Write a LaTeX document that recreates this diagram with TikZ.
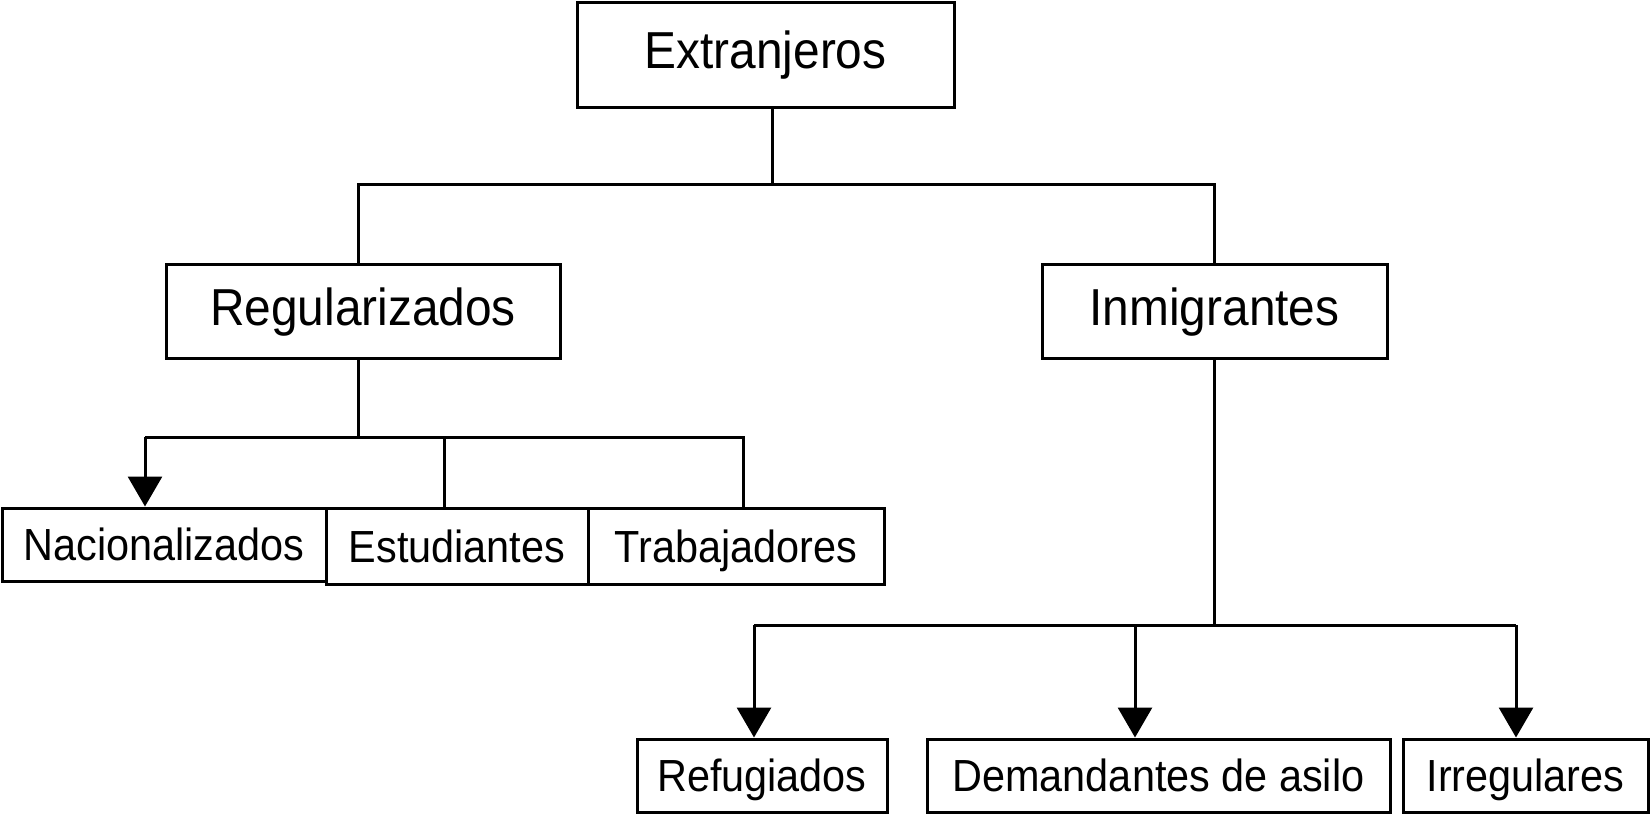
\documentclass[tikz,border=0pt]{standalone}
\usepackage{fontspec}
\setmainfont{Liberation Sans}[FakeStretch=0.92]
\usetikzlibrary{arrows.meta}
\tikzset{
  box/.style={draw, line width=3pt, inner sep=0pt, anchor=center},
  big/.style={box, font=\fontsize{52}{60}\selectfont, text height=39pt, text depth=11pt},
  small/.style={box, font=\fontsize{45}{52}\selectfont, text height=42pt, text depth=9.4pt},
  conn/.style={line width=3pt},
  arr/.style={conn, -{Triangle[width=34pt,length=30pt]}}
}
\begin{document}
\begin{tikzpicture}[x=1pt,y=-1pt]
\useasboundingbox (0,0) rectangle (1651,815);
% nodes
\node[big, minimum width=377pt, minimum height=105pt] (ext) at (765.5,54.5) {Extranjeros};
\node[big, minimum width=394pt, minimum height=94pt] (reg) at (363,311) {Regularizados};
\node[big, minimum width=345pt, minimum height=94pt] (inm) at (1214.5,311) {Inmigrantes};
\node[small, minimum width=324pt, minimum height=73pt] (nac) at (164,544.5) {Nacionalizados};
\node[small, minimum width=262pt, minimum height=76pt] (est) at (457,546) {Estudiantes};
\node[small, minimum width=296pt, minimum height=76pt] (tra) at (736,546) {Trabajadores};
\node[small, minimum width=250pt, minimum height=73pt] (ref) at (762,775.5) {Refugiados};
\node[small, minimum width=463pt, minimum height=73pt] (dem) at (1158.5,775.5) {Demandantes de asilo};
\node[small, minimum width=245pt, minimum height=73pt] (irr) at (1525.5,775.5) {Irregulares};
% junctions
\coordinate (j1) at (772,184);
\coordinate (j1l) at (358,184);
\coordinate (j1r) at (1214,184);
\coordinate (j2) at (358,437);
\coordinate (j2l) at (145,437);
\coordinate (j2m) at (444,437);
\coordinate (j2r) at (743,437);
\coordinate (j3) at (1214,625);
\coordinate (j3l) at (754,625);
\coordinate (j3m) at (1135,625);
\coordinate (j3r) at (1516,625);
% connectors
\draw[conn] (ext.south -| j1) -- (j1);
\draw[conn] (reg.north -| j1l) -- (j1l) -- (j1r) -- (inm.north -| j1r);
\draw[conn] (reg.south -| j2) -- (j2);
\draw[conn] (j2l) -- (j2r) -- (tra.north -| j2r);
\draw[conn] (j2m) -- (est.north -| j2m);
\draw[arr] (j2l) -- (nac.north -| j2l);
\draw[conn] (inm.south -| j3) -- (j3);
\draw[conn] (j3l) -- (j3r);
\draw[arr] (j3l) -- (ref.north -| j3l);
\draw[arr] (j3m) -- (dem.north -| j3m);
\draw[arr] (j3r) -- (irr.north -| j3r);
\end{tikzpicture}
\end{document}
